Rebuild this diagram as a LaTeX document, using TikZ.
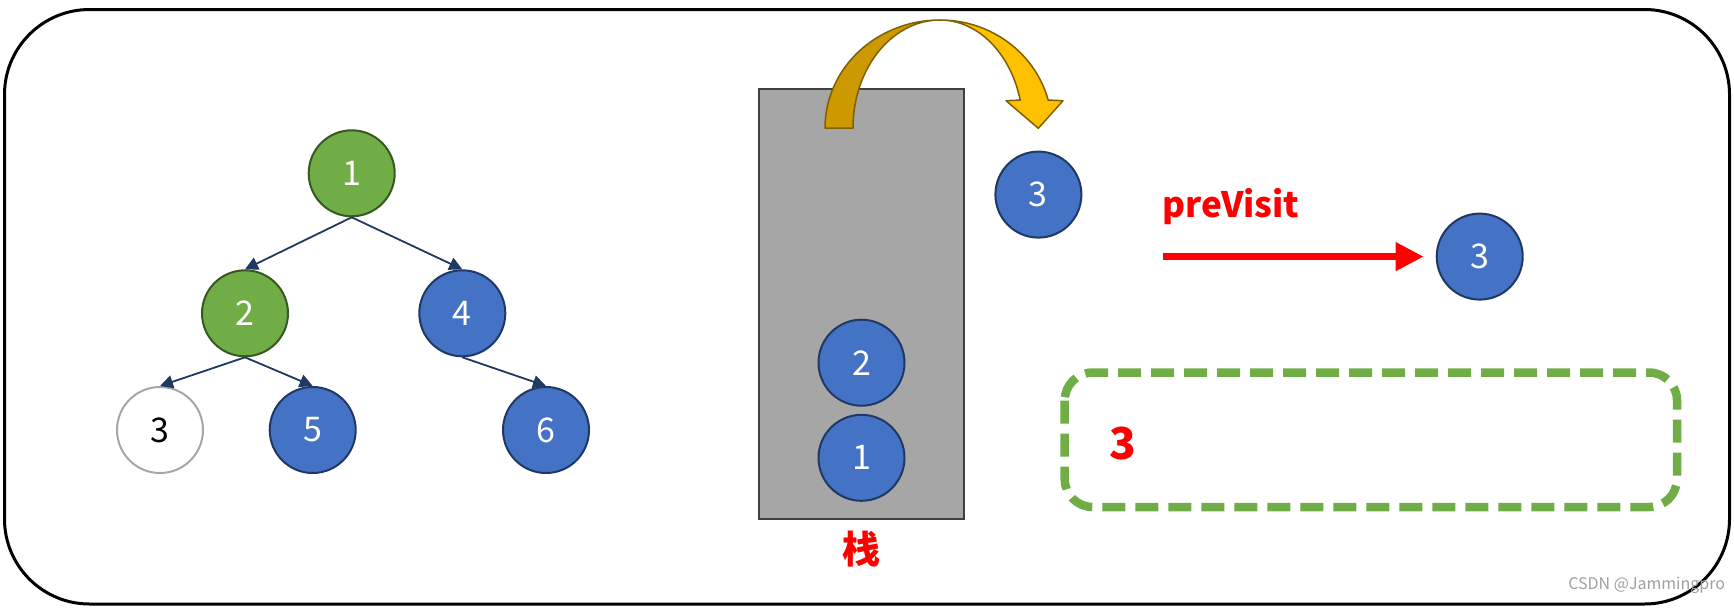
\documentclass[tikz,border=0pt]{standalone}
\usepackage{fontspec}
\setmainfont{Noto Sans CJK SC}
\usetikzlibrary{arrows.meta}
\definecolor{nblue}{HTML}{4472C4}
\definecolor{nblueb}{HTML}{203864}
\definecolor{ngreen}{HTML}{70AD47}
\definecolor{ngreenb}{HTML}{385723}
\definecolor{edgec}{HTML}{1F3864}
\definecolor{stackfill}{HTML}{A6A6A6}
\definecolor{stackb}{HTML}{404040}
\definecolor{goldl}{HTML}{FFC000}
\definecolor{goldd}{HTML}{CC9900}
\definecolor{goldb}{HTML}{7F6000}
\definecolor{wmgray}{HTML}{A0A0A0}
\definecolor{boxgreen}{HTML}{70AD47}
\tikzset{
  bnode/.style={circle, minimum size=86pt, inner sep=0pt, line width=2pt,
    font=\fontsize{34}{40}\selectfont},
  bluenode/.style={bnode, fill=nblue, draw=nblueb, text=white},
  greennode/.style={bnode, fill=ngreen, draw=ngreenb, text=white},
  whitenode/.style={bnode, fill=white, draw=gray!70, text=black},
  treeedge/.style={draw=edgec, line width=1.8pt, -{Triangle[length=13pt,width=13pt]}},
  redarrow/.style={draw=red, line width=7pt, -{Triangle[length=28pt,width=27pt]}},
}
\begin{document}
\begin{tikzpicture}[x=1pt,y=-1pt]
\useasboundingbox (0,0) rectangle (1734,608);
% outer frame
\draw[line width=3pt, rounded corners=85pt] (4.5,9.5) rectangle (1729.5,604) ;
% tree
\node[greennode] (t1) at (351.7,173.3) {1};
\node[greennode] (t2) at (245,313.3) {2};
\node[bluenode] (t4) at (462.3,313.3) {4};
\node[whitenode] (t3) at (160,430) {3};
\node[bluenode] (t5) at (312.7,430) {5};
\node[bluenode] (t6) at (546,430) {6};
\draw[treeedge] (t1.south) -- (t2.north);
\draw[treeedge] (t1.south) -- (t4.north);
\draw[treeedge] (t2.south) -- (t3.north);
\draw[treeedge] (t2.south) -- (t5.north);
\draw[treeedge] (t4.south) -- (t6.north);
% stack
\node[draw=stackb, fill=stackfill, line width=2pt, minimum width=205pt, minimum height=430pt, inner sep=0pt] (stack) at (861.5,303.6) {};
\node[bluenode] (s2) at (861.5,362.7) {2};
\node[bluenode] (s1) at (861.5,457.8) {1};
\node[text=red, font=\fontsize{38}{44}\selectfont\bfseries] (stacklabel) at (861,549) {栈};
% curved arrow
\filldraw[fill=goldd, draw=goldb, line width=1.5pt, line join=round]
  plot[domain=180:270, samples=50] ({940+115*cos(\x)},{128+108*sin(\x)})
  -- plot[domain=270:180, samples=50] ({940+87*cos(\x)},{128+108*sin(\x)}) -- cycle;
\filldraw[fill=goldl, draw=goldb, line width=1.5pt, line join=round]
  plot[domain=270:345, samples=50] ({940+112*cos(\x)},{128+108*sin(\x)})
  -- (1063,100.7) -- (1038.3,128.3) -- (1006,100.7)
  -- plot[domain=345:270, samples=50] ({940+83*cos(\x)},{128+108*sin(\x)}) -- cycle;
% popped node
\node[bluenode] (p3) at (1038.4,194.6) {3};
% preVisit
\node[text=red, font=\fontsize{35}{40}\selectfont\bfseries] (pv) at (1231,206.8) {preVisit};
\node[bluenode] (r3) at (1479.7,256.6) {3};
\coordinate (pvs) at (1163,256.6);
\draw[redarrow] (pvs) -- ([xshift=-12pt]r3.west);
% output box
\draw[draw=boxgreen, line width=8.5pt, rounded corners=28pt, dash pattern=on 23pt off 10pt] (1064.7,372.5) rectangle (1677,507);
\node[text=red, font=\fontsize{44}{50}\selectfont\bfseries] (out3) at (1123.3,444) {3};
% watermark
\node[text=wmgray, font=\fontsize{16}{20}\selectfont, inner sep=0pt] (wm) at (1646.7,585) {CSDN @Jammingpro};
\end{tikzpicture}
\end{document}
